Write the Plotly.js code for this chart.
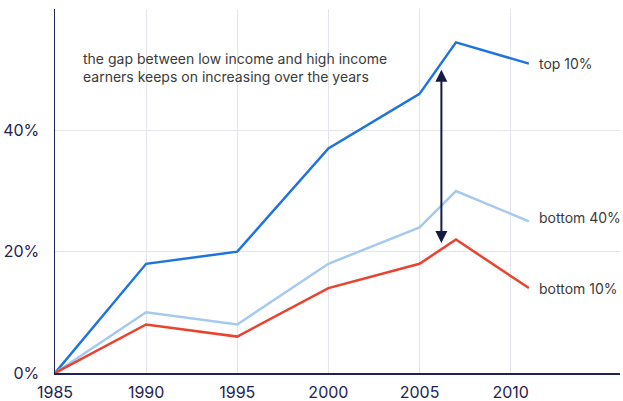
<!DOCTYPE html>
<html>
<head>
<meta charset="utf-8">
<script src="https://cdn.plot.ly/plotly-3.0.1.min.js"></script>
<style>html,body{margin:0;padding:0;background:#fff;}#chart{width:623px;height:401px;}</style>
</head>
<body>
<div id="chart"></div>
<script>
const years = [1985, 1990, 1995, 2000, 2005, 2007, 2011];
const top10 = [0, 18, 20, 37, 46, 54.5, 51];
const bottom40 = [0, 10, 8, 18, 24, 30, 25];
const bottom10 = [0, 8, 6, 14, 18, 22, 14];
const seriesNames = ["top 10%", "bottom 40%", "bottom 10%"];
const seriesColors = ["#1f74dc", "#a6c9f0", "#e8432f"];
const labelShifts = [0, 4, 0];
const xTicks = [1985, 1990, 1995, 2000, 2005, 2010];
const yTicks = [0, 20, 40];
const yTickText = ["0%", "20%", "40%"];
const noteText = "the gap between low income and high income<br>earners keeps on increasing over the years";
const gapYear = 2006.2;
const gapTop = 50;
const gapBottom = 21.2;

const series = [top10, bottom40, bottom10];
const traces = series.map((s, i) => ({
  x: years, y: s, type: "scatter", mode: "lines", name: seriesNames[i],
  line: {color: seriesColors[i], width: 2.5}, hoverinfo: "skip"
}));

const labelAnns = series.map((s, i) => ({
  x: years[years.length - 1], y: s[s.length - 1], xref: "x", yref: "y",
  text: seriesNames[i], showarrow: false, xanchor: "left", yanchor: "middle",
  xshift: 8, yshift: labelShifts[i], font: {family: "Inter, sans-serif", size: 14, color: "#3a3a3a"}
}));

const layout = {
  width: 623, height: 401,
  margin: {l: 55, r: 3, t: 9, b: 28},
  paper_bgcolor: "#fff", plot_bgcolor: "#fff",
  showlegend: false,
  font: {family: "Inter, sans-serif", color: "#1e2452"},
  xaxis: {
    range: [1985, 2016], tickvals: xTicks, showgrid: true, gridcolor: "#e4e4ec", gridwidth: 1,
    zeroline: false, showline: true, linecolor: "#1e2452", linewidth: 1.5,
    ticks: "", ticklabelstandoff: 4, tickfont: {size: 16, color: "#1e2452"}, fixedrange: true
  },
  yaxis: {
    range: [0, 60], tickvals: yTicks, ticktext: yTickText, showgrid: true, gridcolor: "#e4e4ec", gridwidth: 1,
    zeroline: false, showline: true, linecolor: "#1e2452", linewidth: 1.5,
    ticks: "", ticklabelstandoff: 11, tickfont: {size: 16, color: "#1e2452"}, fixedrange: true
  },
  annotations: [
    {
      x: 1986.4, y: 50.4, xref: "x", yref: "y", text: noteText, showarrow: false,
      xanchor: "left", yanchor: "middle", align: "left",
      font: {family: "Inter, sans-serif", size: 14, color: "#3a3a3a"}
    },
    {
      x: gapYear, y: gapTop, ax: gapYear, ay: gapBottom, xref: "x", yref: "y", axref: "x", ayref: "y",
      text: "", showarrow: true, arrowhead: 2, arrowsize: 1.2, arrowwidth: 2, arrowside: "end+start",
      arrowcolor: "#141b45"
    },
    ...labelAnns
  ]
};
Plotly.newPlot("chart", traces, layout, {displayModeBar: false, staticPlot: true});
</script>
</body>
</html>
